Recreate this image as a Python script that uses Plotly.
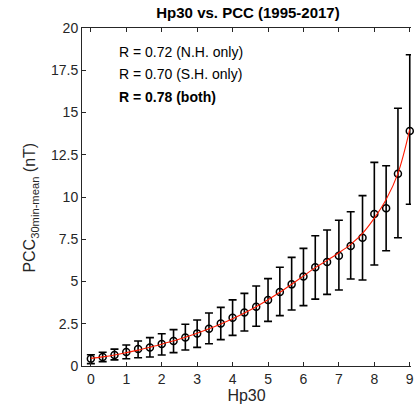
import plotly.graph_objects as go

hp30 = [i / 3 for i in range(28)]
pcc_mean = [0.43, 0.53, 0.65, 0.83, 1.00, 1.10, 1.30, 1.48, 1.68, 1.93, 2.21, 2.52, 2.86, 3.17,
            3.51, 3.91, 4.38, 4.83, 5.29, 5.84, 6.15, 6.53, 7.10, 7.59, 8.99, 9.33, 11.38, 13.90]
pcc_upper = [0.67, 0.81, 1.00, 1.24, 1.48, 1.68, 1.91, 2.15, 2.47, 2.72, 3.14, 3.47, 3.91, 4.30,
             4.73, 5.17, 5.84, 6.43, 6.96, 7.71, 8.05, 8.62, 9.13, 10.08, 12.05, 11.85, 15.25, 18.42]
pcc_lower = [0.14, 0.26, 0.36, 0.43, 0.49, 0.53, 0.65, 0.79, 0.95, 1.10, 1.32, 1.56, 1.81, 2.07,
             2.35, 2.64, 2.98, 3.31, 3.57, 3.96, 4.24, 4.50, 5.15, 5.09, 5.98, 6.82, 7.59, 9.57]
fit_vals = [0.45, 0.54, 0.65, 0.79, 0.94, 1.11, 1.29, 1.49, 1.70, 1.94, 2.20, 2.49, 2.80, 3.14,
            3.51, 3.92, 4.36, 4.84, 5.33, 5.82, 6.25, 6.70, 7.20, 7.85, 8.75, 9.85, 11.40, 14.00]

x_ticks = list(range(10))
y_ticks = [0, 2.5, 5, 7.5, 10, 12.5, 15, 17.5, 20]
y_ticklabels = ["0", "2.5", "5", "7.5", "10", "12.5", "15", "17.5", "20"]
r_texts = ["R = 0.72 (N.H. only)", "R = 0.70 (S.H. only)", "<b>R = 0.78 (both)</b>"]
r_y = [18.58, 17.28, 15.92]

err_plus = [u - m for u, m in zip(pcc_upper, pcc_mean)]
err_minus = [m - l for m, l in zip(pcc_mean, pcc_lower)]

FONT = "Liberation Sans, Arial, sans-serif"
AX = "#262626"

fig = go.Figure()
fig.add_trace(go.Scatter(
    x=hp30, y=pcc_mean, mode="markers",
    marker=dict(symbol="circle-open", size=7, color="black", line=dict(width=1.5, color="black")),
    error_y=dict(type="data", symmetric=False, array=err_plus, arrayminus=err_minus,
                 color="black", thickness=1.6, width=4),
    showlegend=False, cliponaxis=False,
))
fig.add_trace(go.Scatter(
    x=hp30, y=fit_vals, mode="lines", line=dict(color="#ff1a00", width=1.1, shape="spline"),
    showlegend=False,
))

for t, yy in zip(r_texts, r_y):
    fig.add_annotation(x=0.73, y=yy, xref="x", yref="y", text=t, showarrow=False,
                       xanchor="left", yanchor="middle",
                       font=dict(family=FONT, size=14, color="black"))

fig.add_annotation(x=-52 / 332, y=0.47, xref="paper", yref="paper",
                   text="PCC<sub>30min-mean</sub> (nT)", textangle=-90, showarrow=False,
                   xanchor="center", yanchor="middle",
                   font=dict(family=FONT, size=16, color=AX))

fig.update_layout(
    width=414, height=405,
    margin=dict(l=82, r=0, t=28, b=39),
    paper_bgcolor="white", plot_bgcolor="white",
    font=dict(family=FONT, size=14, color=AX),
    title=dict(text="<b>Hp30 vs. PCC (1995-2017)</b>", x=(82 + 166) / 414, xanchor="center",
               y=1 - 13 / 405, yanchor="middle", font=dict(family=FONT, size=15, color="black")),
    xaxis=dict(range=[-0.25, 9.035], tickvals=x_ticks, ticks="inside", ticklen=4,
               tickcolor=AX, showline=True, linecolor=AX, linewidth=1, mirror="ticks",
               showgrid=False, zeroline=False, tickfont=dict(size=14, color=AX),
               ticklabeloverflow="allow",
               title=dict(text="Hp30", font=dict(size=16, color=AX), standoff=2)),
    yaxis=dict(range=[0, 20], tickvals=y_ticks, ticktext=y_ticklabels, ticks="inside", ticklen=4,
               tickcolor=AX, showline=True, linecolor=AX, linewidth=1, mirror=False,
               showgrid=False, zeroline=False, tickfont=dict(size=14, color=AX)),
)

fig.write_html("out.html")
